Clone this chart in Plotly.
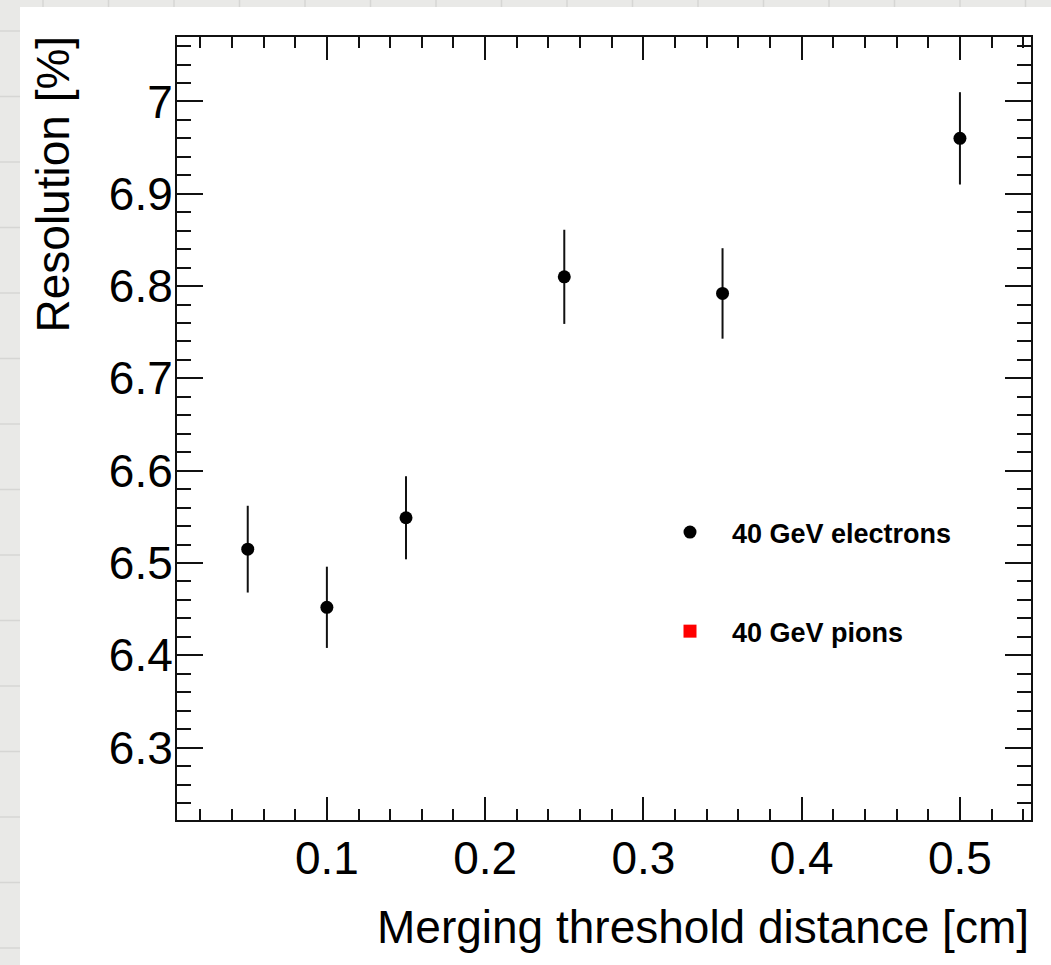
import plotly.graph_objects as go

# ---- data ----
thresholds = [0.05, 0.10, 0.15, 0.25, 0.35, 0.50]
electron_res = [6.515, 6.452, 6.549, 6.810, 6.792, 6.960]
electron_err = [0.047, 0.044, 0.045, 0.051, 0.049, 0.050]
# pions: no point falls inside the drawn window (legend entry only)
pion_x = [None]
pion_res = [None]
x_ticks = [0.1, 0.2, 0.3, 0.4, 0.5]
y_ticks = [6.3, 6.4, 6.5, 6.6, 6.7, 6.8, 6.9, 7.0]
y_ticklabels = ["6.3", "6.4", "6.5", "6.6", "6.7", "6.8", "6.9", "7"]

# ---- layout geometry (pixels) ----
W, H = 1051, 965
L, R, T, B = 177, 1031, 37, 820


def px2x(px):
    return (px - L) / (R - L)


def py2y(py):
    return (B - py) / (B - T)


FONT = "Liberation Sans, Arial, Helvetica, sans-serif"

fig = go.Figure()
fig.add_trace(go.Scatter(
    x=thresholds, y=electron_res, mode="markers", name="40 GeV electrons",
    legendgroup="e",
    marker=dict(symbol="circle", size=13, color="black"),
    error_y=dict(type="data", array=electron_err, visible=True,
                 thickness=2, width=0, color="#111111"),
))
fig.add_trace(go.Scatter(
    x=pion_x, y=pion_res, mode="markers", name="40 GeV pions",
    legendgroup="p",
    marker=dict(symbol="square", size=13, color="#ff0000"),
))

# background: grey grid paper with white sheet
shapes = []
gx = 43.0
while gx < W:
    shapes.append(dict(type="line", xref="paper", yref="paper", layer="below",
                       x0=px2x(gx), x1=px2x(gx), y0=py2y(0), y1=py2y(H),
                       line=dict(color="#d6d6d4", width=1.5)))
    gx += 65.5
gy = 31.0
while gy < H:
    shapes.append(dict(type="line", xref="paper", yref="paper", layer="below",
                       x0=px2x(0), x1=px2x(W), y0=py2y(gy), y1=py2y(gy),
                       line=dict(color="#d6d6d4", width=1.5)))
    gy += 65.5
shapes.append(dict(type="rect", xref="paper", yref="paper", layer="below",
                   x0=px2x(20), x1=px2x(W + 5), y0=py2y(7), y1=py2y(H + 5),
                   fillcolor="white", line=dict(width=0)))

axis_common = dict(
    showline=True, linecolor="#111111", linewidth=2, mirror="ticks",
    ticks="inside", tickwidth=2, tickcolor="#111111",
    showgrid=False, zeroline=False,
    tickfont=dict(family=FONT, size=46, color="black"),
)

fig.update_xaxes(
    range=[0.0053, 0.5449], tickvals=x_ticks, ticktext=[str(v) for v in x_ticks],
    ticklen=23, ticklabelstandoff=-3,
    minor=dict(ticks="inside", ticklen=11, tickwidth=2, tickcolor="#111111",
               dtick=0.02, tick0=0, showgrid=False),
    **axis_common,
)
fig.update_yaxes(
    range=[6.2216, 7.0698], tickvals=y_ticks, ticktext=y_ticklabels,
    ticklen=26, ticklabelstandoff=-7,
    minor=dict(ticks="inside", ticklen=14, tickwidth=2, tickcolor="#111111",
               dtick=0.02, tick0=0, showgrid=False),
    **axis_common,
)

fig.update_layout(
    width=W, height=H,
    margin=dict(l=L, r=W - R, t=T, b=H - B, pad=0),
    paper_bgcolor="#e9e9e7", plot_bgcolor="white",
    shapes=shapes,
    showlegend=True,
    legend=dict(x=px2x(648), y=py2y(508), xanchor="left", yanchor="top",
                bgcolor="rgba(0,0,0,0)", borderwidth=0,
                font=dict(family=FONT, size=27, color="black", weight="bold"),
                tracegroupgap=61, itemwidth=74),
    annotations=[
        dict(text="Merging threshold distance [cm]", xref="paper", yref="paper",
             x=px2x(1031), y=py2y(927), xanchor="right", yanchor="middle",
             showarrow=False, font=dict(family=FONT, size=46, color="black")),
        dict(text="Resolution [%]", xref="paper", yref="paper", textangle=-90,
             x=px2x(53), y=py2y(34), xanchor="center", yanchor="top",
             showarrow=False, font=dict(family=FONT, size=46, color="black")),
    ],
)

fig.write_html("out.html")
